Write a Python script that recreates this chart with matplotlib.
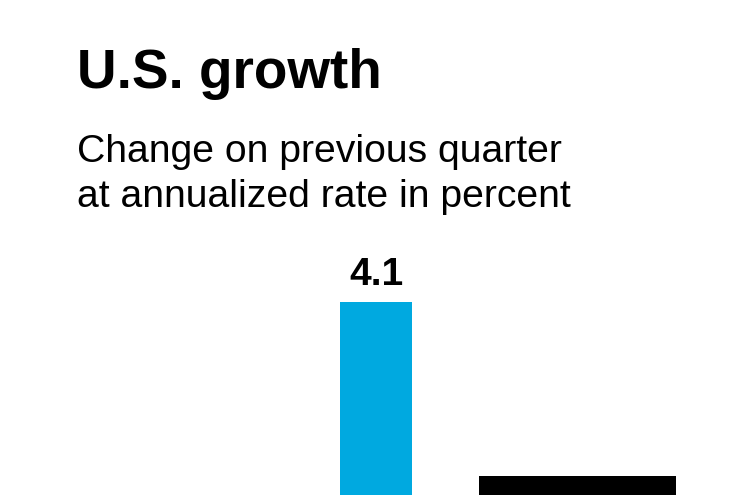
import matplotlib
matplotlib.use('Agg')
import matplotlib.pyplot as plt

# data (the chart is cropped: only the top of each bar is visible)
quarters = ['Q2', 'Q3']
growth = [4.1, 3.5]
labels = ['4.1', '']
bar_colors = ['#00a9e0', '#000000']

W, H = 750, 495
fig = plt.figure(figsize=(W / 100, H / 100), dpi=100)
fig.patch.set_facecolor('white')

# axes cover the whole figure; x in pixels, y cropped above the baseline
ax = fig.add_axes([0, 0, 1, 1])
ax.set_xlim(0, W)
px_per_unit = (476 - 302) / (growth[0] - growth[1])
ax.set_ylim(growth[0] - (H - 302) / px_per_unit, growth[0] + 302 / px_per_unit)
ax.axis('off')

centers = [376, 577.5]
widths = [72, 197]
ax.bar(centers, growth, width=widths, color=bar_colors, bottom=0)
for c, v, lab in zip(centers, growth, labels):
    if lab:
        ax.annotate(lab, (c, v), xytext=(0, 9), textcoords='offset pixels',
                    ha='center', va='bottom', fontsize=28, fontweight='bold',
                    family='Liberation Sans')


def fy(y):
    return 1 - y / H


fig.text(77 / W, fy(88), 'U.S. growth', fontsize=39.5, fontweight='bold',
         family='Liberation Sans', va='baseline', ha='left')
fig.text(77 / W, fy(162), 'Change on previous quarter', fontsize=28.2,
         family='Liberation Sans', va='baseline', ha='left')
fig.text(77 / W, fy(207), 'at annualized rate in percent', fontsize=28.2,
         family='Liberation Sans', va='baseline', ha='left')

fig.savefig('out.png', dpi=100)
